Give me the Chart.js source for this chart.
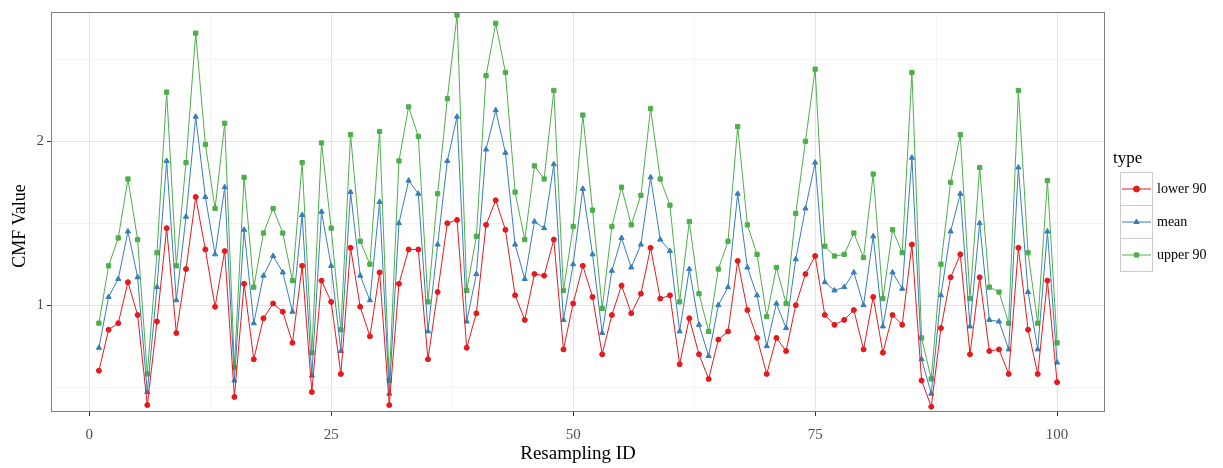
<!DOCTYPE html>
<html>
<head>
<meta charset="utf-8">
<script src="https://cdn.jsdelivr.net/npm/chart.js@4/dist/chart.umd.min.js"></script>
<style>
    html, body { margin: 0; padding: 0; background: #fff; }
    #wrap { width: 1223px; height: 468px; position: relative; }
</style>
</head>
<body>
<div id="wrap"><canvas id="cmfChart" width="1223" height="468"></canvas></div>
<script>
// Resampling IDs (categories)
const ids = Array.from({ length: 100 }, (_, i) => i + 1);

const lower90 = [
    0.60, 0.85, 0.89, 1.14, 0.94, 0.39, 0.90, 1.47, 0.83, 1.22,
    1.66, 1.34, 0.99, 1.33, 0.44, 1.13, 0.67, 0.92, 1.01, 0.96,
    0.77, 1.24, 0.47, 1.15, 1.02, 0.58, 1.35, 0.99, 0.81, 1.20,
    0.39, 1.13, 1.34, 1.34, 0.67, 1.08, 1.50, 1.52, 0.74, 0.95,
    1.49, 1.64, 1.46, 1.06, 0.91, 1.19, 1.18, 1.40, 0.73, 1.01,
    1.24, 1.05, 0.70, 0.94, 1.12, 0.95, 1.07, 1.35, 1.04, 1.06,
    0.64, 0.92, 0.70, 0.55, 0.79, 0.84, 1.27, 0.97, 0.80, 0.58,
    0.80, 0.72, 1.00, 1.19, 1.30, 0.94, 0.88, 0.91, 0.97, 0.73,
    1.05, 0.71, 0.94, 0.88, 1.37, 0.54, 0.38, 0.86, 1.17, 1.31,
    0.70, 1.17, 0.72, 0.73, 0.58, 1.35, 0.85, 0.58, 1.15, 0.53
];

const meanVals = [
    0.74, 1.05, 1.16, 1.45, 1.17, 0.47, 1.11, 1.88, 1.03, 1.54,
    2.15, 1.66, 1.31, 1.72, 0.54, 1.46, 0.89, 1.18, 1.30, 1.20,
    0.96, 1.55, 0.57, 1.57, 1.24, 0.72, 1.69, 1.18, 1.03, 1.63,
    0.46, 1.50, 1.76, 1.68, 0.84, 1.37, 1.88, 2.15, 0.90, 1.19,
    1.95, 2.19, 1.93, 1.37, 1.16, 1.51, 1.47, 1.86, 0.91, 1.25,
    1.71, 1.31, 0.83, 1.21, 1.41, 1.23, 1.37, 1.78, 1.40, 1.33,
    0.84, 1.22, 0.88, 0.69, 1.00, 1.11, 1.68, 1.23, 1.06, 0.75,
    1.01, 0.86, 1.28, 1.59, 1.87, 1.14, 1.09, 1.11, 1.20, 1.00,
    1.42, 0.87, 1.20, 1.10, 1.90, 0.67, 0.46, 1.06, 1.45, 1.68,
    0.87, 1.50, 0.91, 0.90, 0.73, 1.84, 1.08, 0.73, 1.45, 0.65
];

const upper90 = [
    0.89, 1.24, 1.41, 1.77, 1.40, 0.58, 1.32, 2.30, 1.24, 1.87,
    2.66, 1.98, 1.59, 2.11, 0.62, 1.78, 1.11, 1.44, 1.59, 1.44,
    1.15, 1.87, 0.71, 1.99, 1.47, 0.85, 2.04, 1.39, 1.25, 2.06,
    0.54, 1.88, 2.21, 2.03, 1.02, 1.68, 2.26, 2.77, 1.09, 1.42,
    2.40, 2.72, 2.42, 1.69, 1.40, 1.85, 1.77, 2.31, 1.09, 1.48,
    2.16, 1.58, 0.98, 1.48, 1.72, 1.49, 1.67, 2.20, 1.77, 1.61,
    1.02, 1.51, 1.07, 0.84, 1.22, 1.39, 2.09, 1.49, 1.31, 0.93,
    1.23, 1.01, 1.56, 2.00, 2.44, 1.36, 1.30, 1.31, 1.44, 1.29,
    1.80, 1.04, 1.46, 1.32, 2.42, 0.80, 0.55, 1.25, 1.75, 2.04,
    1.04, 1.84, 1.11, 1.08, 0.89, 2.31, 1.32, 0.89, 1.76, 0.77
];

const xTicks = [0, 12.5, 25, 37.5, 50, 62.5, 75, 87.5, 100];
const xLabels = [0, 25, 50, 75, 100];
const yTicks = [0.5, 1, 1.5, 2, 2.5];
const yLabels = [1, 2];

const seriesNames = ['lower 90', 'mean', 'upper 90'];
const seriesColors = ['#e41a1c', '#377eb8', '#4daf4a'];
const seriesShapes = ['circle', 'triangle', 'rect'];

const serif = "'Liberation Serif', 'DejaVu Serif', serif";

function toPoints(values) {
    return values.map((v, i) => ({ x: ids[i], y: v }));
}

// Panel border, y title and ggplot-style legend
const panelPlugin = {
    id: 'panelPlugin',
    afterDraw(chart) {
        const { ctx, chartArea } = chart;
        ctx.save();
        ctx.strokeStyle = '#7f7f7f';
        ctx.lineWidth = 1;
        ctx.strokeRect(chartArea.left + 0.5, chartArea.top + 0.5,
            chartArea.right - chartArea.left - 1, chartArea.bottom - chartArea.top - 1);

        // y axis title
        ctx.save();
        ctx.translate(20, 226);
        ctx.rotate(-Math.PI / 2);
        ctx.fillStyle = '#000';
        ctx.font = '18px ' + serif;
        ctx.textAlign = 'center';
        ctx.textBaseline = 'middle';
        ctx.fillText('CMF Value', 0, 0);
        ctx.restore();

        // legend
        const lx = 1120, ly = 172, kw = 32, kh = 33;
        ctx.fillStyle = '#000';
        ctx.font = '17px ' + serif;
        ctx.textBaseline = 'middle';
        ctx.textAlign = 'left';
        ctx.fillText('type', 1113, 159);
        seriesNames.forEach((name, i) => {
            const y = ly + i * kh;
            const cy = y + kh / 2 + 0.5;
            ctx.strokeStyle = '#cccccc';
            ctx.lineWidth = 1;
            ctx.strokeRect(lx + 0.5, y + 0.5, kw, kh);
            ctx.strokeStyle = seriesColors[i];
            ctx.fillStyle = seriesColors[i];
            ctx.beginPath();
            ctx.moveTo(lx + 2, cy);
            ctx.lineTo(lx + kw - 1, cy);
            ctx.stroke();
            Chart.helpers.drawPoint(ctx, {
                pointStyle: seriesShapes[i],
                radius: 3,
                borderWidth: 1,
                rotation: 0
            }, lx + kw / 2 + 0.5, cy);
            ctx.fillStyle = '#000';
            ctx.font = '14px ' + serif;
            ctx.fillText(name, 1157, y + kh / 2 + 1);
        });
        ctx.restore();
    }
};

function initCmfChart() {
    const ctx = document.getElementById('cmfChart').getContext('2d');

    new Chart(ctx, {
        type: 'line',
        data: {
            datasets: [lower90, meanVals, upper90].map((vals, i) => ({
                label: seriesNames[i],
                data: toPoints(vals),
                borderColor: seriesColors[i],
                backgroundColor: seriesColors[i],
                borderWidth: 1,
                pointStyle: seriesShapes[i],
                pointRadius: i === 0 ? 2.5 : 3,
                pointBorderWidth: 1,
                tension: 0,
                fill: false
            }))
        },
        options: {
            responsive: false,
            animation: false,
            events: [],
            layout: { padding: { top: 7, right: 118, left: 0, bottom: 0 } },
            plugins: {
                legend: { display: false },
                tooltip: { enabled: false }
            },
            scales: {
                x: {
                    type: 'linear',
                    min: -3.95,
                    max: 104.95,
                    afterBuildTicks: axis => { axis.ticks = xTicks.map(v => ({ value: v })); },
                    afterFit: axis => { axis.height = 56; },
                    ticks: {
                        autoSkip: false,
                        maxRotation: 0,
                        padding: 10,
                        color: '#4d4d4d',
                        font: { family: serif, size: 15 },
                        callback: v => xLabels.includes(v) ? String(v) : ''
                    },
                    grid: {
                        color: c => xLabels.includes(c.tick.value) ? '#e3e3e3' : '#f4f4f4',
                        tickColor: c => xLabels.includes(c.tick.value) ? '#333333' : 'rgba(0,0,0,0)',
                        tickLength: 4,
                        lineWidth: 1
                    },
                    border: { display: false },
                    title: {
                        display: true,
                        text: 'Resampling ID',
                        color: '#000',
                        font: { family: serif, size: 19 },
                        padding: { top: 0, bottom: 3 }
                    }
                },
                y: {
                    type: 'linear',
                    min: 0.348,
                    max: 2.789,
                    afterBuildTicks: axis => { axis.ticks = yTicks.map(v => ({ value: v })); },
                    afterFit: axis => { axis.width = 51; },
                    ticks: {
                        autoSkip: false,
                        padding: 3,
                        color: '#4d4d4d',
                        font: { family: serif, size: 15 },
                        callback: v => yLabels.includes(v) ? String(v) : ''
                    },
                    grid: {
                        color: c => yLabels.includes(c.tick.value) ? '#e3e3e3' : '#f4f4f4',
                        tickColor: c => yLabels.includes(c.tick.value) ? '#333333' : 'rgba(0,0,0,0)',
                        tickLength: 4,
                        lineWidth: 1
                    },
                    border: { display: false },
                    title: { display: false }
                }
            }
        },
        plugins: [panelPlugin]
    });
}

initCmfChart();
</script>
</body>
</html>
